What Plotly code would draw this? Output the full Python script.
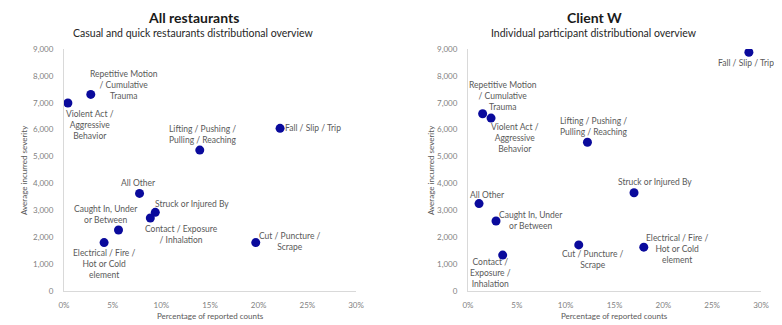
import plotly.graph_objects as go

# ---- data ----
left_categories = ["Violent Act /<br>Aggressive<br>Behavior", "Repetitive Motion<br>/ Cumulative<br>Trauma",
                   "All Other", "Struck or Injured By", "Contact / Exposure<br>/ Inhalation",
                   "Caught In, Under<br>or Between", "Electrical / Fire /<br>Hot or Cold<br>element",
                   "Cut / Puncture /<br>Scrape", "Lifting / Pushing /<br>Pulling / Reaching", "Fall / Slip / Trip"]
left_pct = [0.004, 0.0275, 0.0776, 0.0938, 0.0887, 0.056, 0.0412, 0.197, 0.1395, 0.222]
left_sev = [6990, 7310, 3630, 2925, 2715, 2270, 1800, 1800, 5240, 6050]

right_categories = ["Fall / Slip / Trip", "Lifting / Pushing /<br>Pulling / Reaching", "Struck or Injured By",
                    "Repetitive Motion<br>/ Cumulative<br>Trauma", "Violent Act /<br>Aggressive<br>Behavior",
                    "All Other", "Caught In, Under<br>or Between", "Contact /<br>Exposure /<br>Inhalation",
                    "Cut / Puncture /<br>Scrape", "Electrical / Fire /<br>Hot or Cold<br>element"]
right_pct = [0.2876, 0.1223, 0.170, 0.015, 0.0236, 0.0113, 0.0287, 0.0355, 0.1134, 0.180]
right_sev = [8880, 5530, 3655, 6590, 6430, 3250, 2605, 1335, 1715, 1630]

titles = ["All restaurants", "Client W"]
subtitles = ["Casual and quick restaurants distributional overview",
             "Individual participant distributional overview"]
x_title = "Percentage of reported counts"
y_title = "Average incurred severity"

# label offsets in pixels (style only)
left_offsets = [(22, 22), (33, -9), (-1, -10), (37, -8), (31, 16), (-13, -15), (0, 21), (34, -1), (3, -16), (33, 0)]
right_offsets = [(-3, 11), (7, -16), (21, -11), (20, -18), (24, 20), (8, -9), (35, 0), (-12, 18), (14, 15), (34, 2)]

FONT = "Lato"
MARK = "#0a0a9c"
TXT = "#595959"
# page body has an 8px margin: the figure is drawn at (8, 8)
OFF = 8
W, H = 782 - OFF, 325 - OFF

def px(x):
    return (x - OFF) / W

def py(y):
    return 1 - (y - OFF) / H

fig = go.Figure()
fig.add_trace(go.Scatter(x=left_pct, y=left_sev, mode="markers", xaxis="x", yaxis="y",
                         marker=dict(size=9, color=MARK), showlegend=False, hoverinfo="skip"))
fig.add_trace(go.Scatter(x=right_pct, y=right_sev, mode="markers", xaxis="x2", yaxis="y2",
                         marker=dict(size=9, color=MARK), showlegend=False, hoverinfo="skip"))

ydom = [py(291), py(49)]
xdom1 = [px(64), px(356)]
xdom2 = [px(468), px(761)]

def xa(dom, anchor):
    return dict(domain=dom, range=[0, 0.30], tickvals=[0, .05, .1, .15, .2, .25, .3], tickformat=".0%",
                showgrid=False, zeroline=False, showline=True, linecolor="#d9d9d9", linewidth=1,
                tickfont=dict(family=FONT, size=8, color="#7f7f7f"), anchor=anchor, ticklabelstandoff=6,
                fixedrange=True, automargin=False)

def ya(anchor):
    return dict(domain=ydom, range=[0, 9000], tickvals=list(range(0, 9001, 1000)), tickformat=",",
                showgrid=False, zeroline=False, showline=True, linecolor="#d9d9d9", linewidth=1,
                tickfont=dict(family=FONT, size=8, color="#7f7f7f"), anchor=anchor, ticklabelstandoff=8,
                fixedrange=True, automargin=False)

annotations = []
for cats, xs, ys, offs, xr, yr in [(left_categories, left_pct, left_sev, left_offsets, "x", "y"),
                                   (right_categories, right_pct, right_sev, right_offsets, "x2", "y2")]:
    for c, x, y, (dx, dy) in zip(cats, xs, ys, offs):
        annotations.append(dict(x=x, y=y, xref=xr, yref=yr, text=c, showarrow=False,
                                xshift=dx, yshift=-dy, xanchor="center", yanchor="middle",
                                font=dict(family=FONT, size=8.5, color=TXT), align="center"))

for i, (cx, ycx) in enumerate([(193, 24), (594, 431)]):
    annotations.append(dict(x=px(cx), y=1, xref="paper", yref="paper", text="<b>" + titles[i] + "</b>",
                            showarrow=False, xanchor="center", yanchor="top", borderpad=0,
                            font=dict(family=FONT, size=14, color="#1a1a1a")))
    annotations.append(dict(x=px(cx), y=py(33), xref="paper", yref="paper", text=subtitles[i],
                            showarrow=False, xanchor="center", yanchor="middle",
                            font=dict(family=FONT, size=10.5, color="#262626")))
    annotations.append(dict(x=px(ycx), y=py(170), xref="paper", yref="paper", text=y_title,
                            showarrow=False, xanchor="center", yanchor="middle", textangle=-90,
                            font=dict(family=FONT, size=8, color=TXT)))
for cx in [210, 614]:
    annotations.append(dict(x=px(cx), y=py(316), xref="paper", yref="paper", text=x_title,
                            showarrow=False, xanchor="center", yanchor="middle",
                            font=dict(family=FONT, size=8, color=TXT)))

fig.update_layout(width=W, height=H, margin=dict(l=0, r=0, t=0, b=0, autoexpand=False),
                  paper_bgcolor="white", plot_bgcolor="white",
                  xaxis=xa(xdom1, "y"), yaxis=ya("x"), xaxis2=xa(xdom2, "y2"), yaxis2=ya("x2"),
                  annotations=annotations)

fig.write_html("out.html")
